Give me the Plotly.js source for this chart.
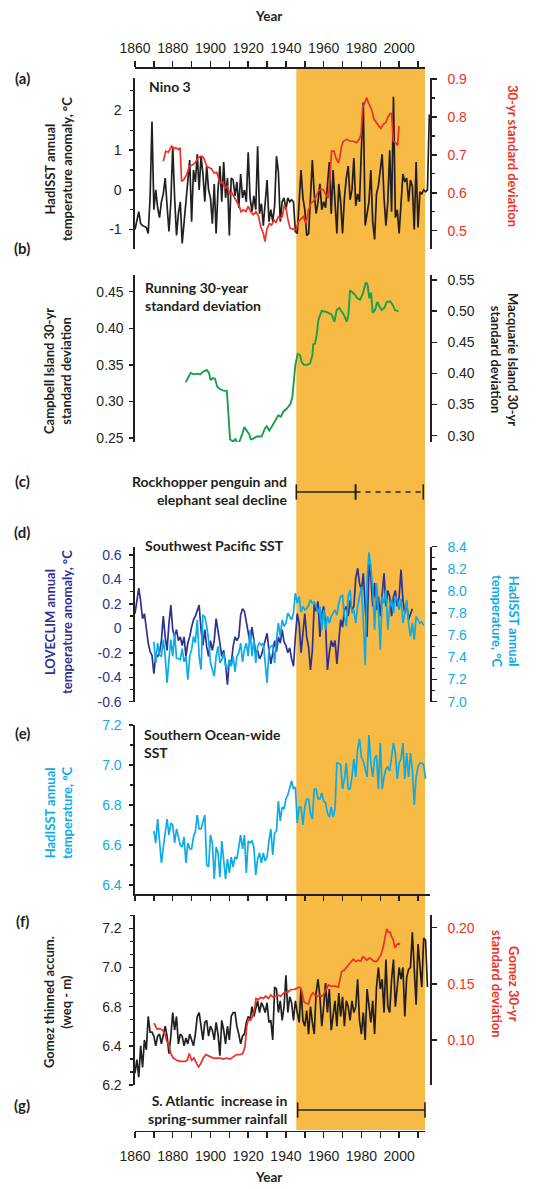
<!DOCTYPE html>
<html><head><meta charset="utf-8">
<script src="https://cdn.plot.ly/plotly-3.0.1.min.js"></script>
<style>html,body{margin:0;padding:0;background:#fff}#chart{width:536px;height:1189px}</style>
</head><body><div id="chart"></div>
<script>
// ---------------- DATA ----------------
const shadedPeriod = [1945.5, 2013.7];

// (a) Nino 3 HadISST annual anomaly (left) and 30-yr SD (right)
const nino3Start = 1860;
const nino3Anom = [
 -1.0,-0.8,-0.55,-0.85,-0.9,-0.92,-0.95,-1.1,-0.2,1.72,
 -0.5,0.0,-0.45,-0.7,-0.3,-0.1,0.3,-0.4,-1.05,-0.3,
 1.1,-0.2,-1.15,-0.6,-0.3,-1.35,-0.8,-0.2,0.3,0.75,
 -0.8,0.5,0.2,0.9,0.0,0.85,0.4,-0.3,0.6,0.0,
 -0.2,-0.85,0.15,-1.1,0.0,0.6,-0.3,0.7,-0.2,0.3,
 -1.15,0.3,0.25,-0.15,0.2,-0.45,0.4,-0.2,0.0,-0.3,
 0.95,-0.2,-0.55,-0.15,-0.5,1.1,-0.6,-0.35,-0.9,-0.4,
 0.25,-0.8,-0.5,-0.8,-0.4,0.85,0.45,-0.8,-0.3,-0.2,
 -0.5,-0.2,-0.3,-0.25,-0.3,-1.05,-1.1,-0.3,0.5,-0.2,
 -0.5,-1.15,-1.1,-0.2,0.75,-0.1,-0.6,-0.3,0.15,-0.5,
 -0.3,-0.45,0.2,0.7,-0.6,0.5,-0.3,-1.1,0.15,-0.3,
 -1.1,-0.2,0.3,0.6,-0.25,0.0,0.8,-0.4,-0.1,-0.3,
 1.02,2.2,-0.9,-0.6,-0.3,0.5,-0.8,-1.25,-0.1,0.1,
 0.5,0.9,-0.2,-0.9,-0.3,1.0,-0.55,2.35,-0.7,-0.5,
 -1.1,-0.4,0.4,0.2,0.3,-0.3,0.25,0.1,-1.0,0.7,
 -0.95,-0.05,-0.1,0.0,-0.05,0.0,1.9];
const nino3SdYears = [
 1875.0,1876.3,1877.7,1878.6,1879.4,1880.3,1881.7,1883.0,1883.9,1884.7,
 1886.1,1887.4,1888.8,1890.6,1891.8,1893.0,1894.5,1895.7,1896.6,1898.0,
 1899.4,1900.6,1901.9,1903.3,1904.3,1905.0,1906.5,1907.7,1908.9,1910.4,
 1911.2,1912.6,1913.9,1915.3,1916.2,1917.4,1918.8,1920.0,1921.3,1922.7,
 1924.1,1925.4,1926.6,1928.0,1928.9,1929.8,1931.2,1932.4,1933.7,1934.7,
 1936.0,1937.2,1938.1,1939.0,1940.0,1940.9,1942.2,1943.9,1945.3,1946.6,
 1948.0,1949.2,1950.6,1951.9,1953.3,1954.5,1955.8,1957.2,1958.4,1959.8,
 1961.2,1962.5,1963.4,1964.2,1965.5,1966.5,1967.8,1968.7,1969.5,1970.4,
 1972.2,1974.0,1975.7,1977.5,1978.9,1979.8,1980.7,1981.9,1982.8,1983.7,
 1984.6,1985.4,1986.7,1988.1,1989.3,1990.4,1991.6,1992.9,1993.9,1995.2,
 1996.0,1996.9,1998.3,1999.2,1999.9];
const nino3Sd = [
 0.683,0.710,0.707,0.714,0.723,0.716,0.719,0.714,0.719,0.630,
 0.636,0.648,0.670,0.674,0.679,0.689,0.696,0.696,0.690,0.670,
 0.665,0.663,0.652,0.654,0.639,0.626,0.627,0.612,0.617,0.595,
 0.601,0.588,0.573,0.564,0.550,0.555,0.550,0.564,0.550,0.542,
 0.550,0.539,0.511,0.493,0.471,0.502,0.519,0.515,0.528,0.521,
 0.537,0.533,0.537,0.564,0.561,0.533,0.506,0.504,0.502,0.524,
 0.530,0.537,0.519,0.553,0.573,0.577,0.588,0.604,0.610,0.608,
 0.595,0.586,0.648,0.710,0.710,0.692,0.679,0.696,0.723,0.736,
 0.741,0.736,0.736,0.732,0.742,0.754,0.825,0.838,0.851,0.838,
 0.829,0.820,0.794,0.783,0.776,0.770,0.781,0.785,0.798,0.809,
 0.809,0.736,0.732,0.725,0.776];

// (b) Running 30-year standard deviation (Campbell Island)
const campbellSdYears = [
 1886.9,1889.5,1890.9,1892.7,1894.5,1896.2,1898.0,1899.2,1900.1,1901.2,
 1902.4,1903.6,1905.0,1906.5,1908.7,1909.6,1910.4,1912.1,1913.2,1914.4,
 1915.7,1916.9,1918.0,1919.2,1920.6,1921.3,1922.7,1924.5,1927.1,1928.9,
 1929.8,1931.2,1932.4,1934.2,1936.0,1937.4,1938.6,1940.4,1941.6,1942.5,
 1943.4,1944.3,1945.0,1946.2,1947.5,1948.3,1949.6,1951.3,1952.8,1954.0,
 1954.5,1955.4,1956.3,1957.2,1958.1,1958.9,1959.8,1960.7,1962.5,1964.2,
 1965.7,1966.9,1968.3,1969.5,1970.8,1972.2,1973.1,1974.0,1975.4,1976.6,
 1977.8,1979.3,1980.7,1981.6,1982.4,1983.3,1984.2,1985.1,1986.0,1987.2,
 1988.4,1989.5,1990.7,1992.2,1993.4,1995.2,1996.6,1997.8,1999.6];
const campbellSd = [
 0.326,0.339,0.337,0.338,0.337,0.341,0.343,0.339,0.329,0.332,
 0.331,0.320,0.317,0.315,0.314,0.283,0.248,0.245,0.249,0.242,
 0.247,0.256,0.265,0.260,0.255,0.248,0.249,0.252,0.252,0.263,
 0.266,0.260,0.265,0.272,0.281,0.279,0.286,0.290,0.295,0.297,
 0.306,0.329,0.350,0.365,0.363,0.354,0.350,0.350,0.352,0.363,
 0.378,0.379,0.391,0.411,0.417,0.424,0.423,0.423,0.421,0.419,
 0.409,0.425,0.428,0.423,0.418,0.409,0.418,0.452,0.449,0.446,
 0.441,0.439,0.447,0.455,0.463,0.459,0.441,0.449,0.421,0.425,
 0.436,0.430,0.425,0.428,0.436,0.437,0.432,0.425,0.423];

// (c) Rockhopper penguin and elephant seal decline
const declineSolid = [1945.5, 1976.9];
const declineDashed = [1976.9, 2012.8];

// (d) Southwest Pacific SST
const loveclimStart = 1860;
const loveclimAnom = [
 0.12,0.25,0.33,0.22,0.08,0.12,-0.01,-0.12,-0.19,-0.22,
 -0.37,-0.22,-0.23,-0.20,-0.10,0.10,-0.07,-0.18,0.04,0.19,
 -0.01,-0.07,-0.01,-0.10,-0.07,-0.14,-0.07,-0.23,-0.12,-0.07,
 0.01,0.07,0.10,0.15,0.19,-0.01,-0.14,-0.01,-0.15,-0.23,
 -0.10,-0.18,-0.10,0.08,-0.01,-0.12,-0.23,-0.18,-0.29,-0.46,
 -0.26,-0.29,-0.15,-0.07,-0.10,-0.07,0.11,0.16,0.14,0.05,
 -0.01,-0.12,0.01,-0.11,-0.20,-0.18,-0.25,-0.22,-0.16,-0.10,
 -0.04,-0.18,-0.29,-0.20,-0.10,-0.19,-0.07,-0.12,-0.01,-0.11,
 -0.14,-0.20,-0.16,-0.25,-0.31,-0.07,0.12,0.04,-0.20,-0.04,
 0.12,-0.07,-0.15,-0.34,-0.18,0.20,0.14,0.22,-0.07,0.12,
 0.18,0.04,-0.34,-0.20,-0.10,-0.15,-0.10,-0.29,-0.10,0.07,
 0.01,0.15,0.18,0.10,0.23,0.15,0.18,0.41,0.49,0.37,
 0.31,0.45,0.18,-0.07,0.53,0.42,0.18,0.37,0.15,0.26,
 0.10,0.26,0.45,0.18,0.31,0.26,0.10,0.26,0.31,0.18,
 0.26,0.48,0.23,0.12,0.20,0.07,0.12,0.16];
const swpHadStart = 1870;
const swpHadSst = [
 7.54,7.35,7.53,7.42,7.41,7.56,7.41,7.17,7.38,7.56,
 7.41,7.62,7.39,7.39,7.38,7.48,7.36,7.41,7.20,7.41,
 7.47,7.59,7.53,7.74,7.41,7.29,7.78,7.77,7.68,7.56,
 7.35,7.29,7.23,7.41,7.50,7.35,7.38,7.44,7.32,7.29,
 7.38,7.32,7.41,7.27,7.41,7.44,7.53,7.36,7.47,7.53,
 7.41,7.65,7.41,7.56,7.35,7.50,7.53,7.51,7.53,7.35,
 7.17,7.47,7.50,7.51,7.35,7.56,7.71,7.59,7.74,7.68,
 7.71,7.80,7.77,7.74,7.80,7.98,7.89,7.95,7.81,7.86,
 7.83,7.84,7.87,7.92,7.89,7.90,7.86,7.80,7.86,7.65,
 7.83,7.65,7.77,7.71,7.77,7.80,7.83,7.78,7.89,7.95,
 7.96,7.77,7.68,7.95,8.01,7.80,7.83,7.71,7.86,7.95,
 8.04,7.74,7.33,8.10,8.35,8.22,8.01,7.65,8.07,7.83,
 7.47,7.95,7.89,8.01,7.65,7.86,7.92,7.80,7.95,7.92,
 7.83,7.93,7.71,7.80,7.92,7.71,7.59,7.71,7.56,7.77,
 7.74,7.71,7.72,7.69];

// (e) Southern Ocean-wide SST
const soHadStart = 1870;
const soHadSst = [
 6.67,6.61,6.73,6.61,6.51,6.59,6.66,6.73,6.65,6.71,
 6.70,6.61,6.68,6.64,6.60,6.59,6.64,6.51,6.61,6.58,
 6.58,6.64,6.67,6.75,6.68,6.68,6.71,6.75,6.50,6.49,
 6.65,6.61,6.43,6.59,6.56,6.44,6.62,6.51,6.43,6.53,
 6.46,6.54,6.49,6.54,6.53,6.59,6.65,6.58,6.65,6.46,
 6.62,6.61,6.62,6.59,6.45,6.53,6.56,6.51,6.56,6.52,
 6.54,6.62,6.68,6.55,6.66,6.67,6.82,6.72,6.79,6.78,
 6.83,6.85,6.88,6.92,6.88,6.89,6.71,6.79,6.79,6.70,
 6.79,6.83,6.83,6.76,6.73,6.88,6.88,6.83,6.83,6.86,
 6.82,6.81,6.76,6.74,6.79,6.74,6.78,7.01,7.01,7.00,
 6.88,6.93,7.01,6.88,6.88,6.94,7.03,6.94,7.08,7.13,
 7.04,7.02,6.98,6.94,7.15,7.01,6.94,7.03,7.05,6.88,
 7.11,6.88,6.94,6.98,6.99,6.97,7.04,7.11,7.06,6.93,
 7.01,7.03,7.11,6.93,7.06,6.94,7.06,6.98,6.80,6.94,
 6.99,7.01,7.01,7.00,6.93];

// (f) Gomez thinned accumulation (left) and 30-yr SD (right)
const gomezStart = 1860;
const gomezAccum = [
 6.46,6.53,6.44,6.60,6.49,6.63,6.58,6.75,6.67,6.67,
 6.65,6.60,6.65,6.66,6.61,6.66,6.70,6.65,6.56,6.65,
 6.77,6.68,6.75,6.61,6.66,6.65,6.60,6.64,6.61,6.66,
 6.63,6.60,6.66,6.75,6.77,6.70,6.63,6.72,6.73,6.65,
 6.70,6.68,6.63,6.72,6.66,6.55,6.73,6.68,6.61,6.70,
 6.63,6.75,6.77,6.77,6.70,6.66,6.61,6.65,6.66,6.72,
 6.75,6.73,6.80,6.75,6.80,6.83,6.77,6.82,6.80,6.77,
 6.82,6.72,6.73,6.63,6.90,6.89,6.77,6.83,6.73,6.80,
 6.96,6.77,6.85,6.82,6.73,6.83,6.77,6.72,6.89,6.73,
 6.70,6.78,6.66,6.80,6.72,6.66,6.87,6.94,6.85,6.70,
 6.80,6.92,6.77,6.89,6.68,6.75,6.83,6.70,6.87,6.75,
 6.85,6.70,6.83,6.80,6.73,6.83,6.77,6.80,6.94,6.73,
 6.66,6.77,6.63,6.89,6.80,6.72,6.83,6.66,6.90,7.00,
 6.89,6.94,6.77,7.04,6.80,6.77,6.94,7.04,6.80,6.90,
 7.00,6.94,7.00,6.75,6.95,6.99,7.00,7.18,6.97,6.81,
 7.12,7.00,6.90,7.15,7.14,6.90];
const gomezSdYears = [
 1870.2,1871.5,1873.3,1874.5,1875.9,1876.8,1877.7,1878.9,1880.3,1882.1,
 1883.9,1886.5,1887.7,1888.8,1890.0,1891.3,1892.7,1893.7,1894.8,1896.2,
 1897.6,1898.9,1900.3,1901.5,1903.3,1905.0,1906.8,1908.6,1910.4,1912.1,
 1913.9,1915.7,1917.1,1918.3,1919.2,1920.1,1921.3,1922.4,1923.6,1924.1,
 1925.4,1926.6,1928.0,1929.3,1930.7,1931.9,1933.3,1934.7,1936.0,1937.2,
 1938.6,1939.5,1940.7,1941.8,1943.0,1944.3,1945.7,1947.1,1948.0,1948.9,
 1949.6,1950.6,1951.9,1953.1,1954.2,1955.4,1956.6,1957.7,1958.9,1959.8,
 1961.1,1962.5,1963.7,1965.1,1966.5,1967.8,1968.7,1969.5,1970.8,1972.2,
 1973.6,1974.8,1975.7,1977.1,1978.4,1979.6,1980.7,1981.9,1982.8,1984.2,
 1985.4,1986.7,1988.1,1989.3,1990.4,1991.6,1992.5,1993.4,1994.3,1995.2,
 1996.0,1996.9,1997.8,1998.7,1999.6,2000.5];
const gomezSd = [
 0.115,0.110,0.110,0.109,0.105,0.099,0.097,0.088,0.084,0.082,
 0.081,0.081,0.082,0.088,0.082,0.084,0.079,0.076,0.079,0.084,
 0.087,0.086,0.085,0.084,0.084,0.084,0.083,0.084,0.083,0.085,
 0.087,0.087,0.088,0.094,0.112,0.119,0.118,0.121,0.130,0.137,
 0.136,0.138,0.137,0.139,0.137,0.140,0.138,0.139,0.140,0.139,
 0.142,0.143,0.142,0.144,0.145,0.145,0.146,0.147,0.146,0.140,
 0.134,0.133,0.132,0.139,0.142,0.140,0.139,0.140,0.139,0.140,
 0.145,0.149,0.148,0.148,0.148,0.147,0.153,0.161,0.162,0.165,
 0.167,0.170,0.172,0.170,0.171,0.170,0.174,0.173,0.171,0.173,
 0.172,0.170,0.170,0.173,0.176,0.183,0.192,0.199,0.196,0.196,
 0.192,0.189,0.182,0.185,0.186,0.185];
const gomezTickVals = [6.4, 6.6, 6.8, 7.0, 7.2];
const gomezTickText = ['6.2', '6.4', '6.8', '7.0', '7.2'];

// (g) S. Atlantic increase in spring-summer rainfall
const rainfallSpan = [1946.2, 2013.7];

// ---------------- STYLE / LAYOUT ----------------
const W = 536, H = 1189;
const px = v => v / W;
const py = v => 1 - v / H;
const BLACK = '#231f20', RED = '#ee3124', GREEN = '#1aa04a', DBLUE = '#2e3192', LBLUE = '#0cabe8', ORANGE = '#f6ba45';
const F_TICK = 'Liberation Sans, Arial, sans-serif';
const F_BOLD = 'Lato, Open Sans, sans-serif';
const years = (start, arr) => arr.map((_, i) => start + i);

const lineAx = {showline:true, linecolor:BLACK, linewidth:1.6, ticks:'outside', ticklen:4, tickwidth:1.5,
  tickcolor:BLACK, showgrid:false, zeroline:false, fixedrange:true,
  tickfont:{family:F_TICK, size:14, color:BLACK}};
function yax(extra){ return Object.assign({}, lineAx, {anchor:'x', ticklabelstandoff:5}, extra); }
function minor(dtick, tick0){ return {dtick:dtick, tick0:tick0, ticks:'outside', ticklen:3, tickwidth:1.3, tickcolor:BLACK, showgrid:false}; }

const xDataRange = [1860, 1860 + (430 - 135) / 1.8867];
const xAxisRange = [1860, 1860 + (425 - 135) / 1.8867];

const layout = {
  width:W, height:H, margin:{l:0,r:0,t:0,b:0}, paper_bgcolor:'#fff', plot_bgcolor:'rgba(0,0,0,0)',
  showlegend:false,
  xaxis:{domain:[px(135), px(430)], range:xDataRange, visible:false, anchor:'y', fixedrange:true},
  xaxis2:Object.assign({}, lineAx, {domain:[px(135), px(425)], range:xAxisRange, anchor:'y12', side:'top',
     tick0:1860, dtick:20, ticklen:6, ticklabelstandoff:3, minor:Object.assign(minor(10,1860),{ticklen:6, tickwidth:1.5})}),
  xaxis3:Object.assign({}, lineAx, {domain:[px(135), px(425)], range:xAxisRange, anchor:'y12', side:'bottom',
     tick0:1860, dtick:20, ticklen:6, ticklabelstandoff:6, minor:Object.assign(minor(10,1860),{ticklen:6, tickwidth:1.5})}),
  xaxis4:Object.assign({}, lineAx, {domain:[px(135), px(430)], range:xDataRange, anchor:'y8', side:'bottom',
     tick0:1860, dtick:10, ticklen:5, showticklabels:false}),
  // (a)
  yaxis:yax({domain:[py(249), py(78)], range:[-1.49, 2.82], tickmode:'array', tickvals:[-1,0,1,2], ticktext:['-1','0','1','2'],
     minor:minor(0.5,0)}),
  yaxis2:yax({domain:[py(249), py(78)], range:[0.4515, 0.903], overlaying:'y', side:'right', tick0:0.5, dtick:0.1, tickformat:'.1f',
     ticklen:5, ticklabelstandoff:8, tickfont:{family:F_TICK, size:14, color:RED}, minor:minor(0.05,0.5)}),
  // (b)
  yaxis3:yax({domain:[py(442), py(275)], range:[0.2445, 0.4729], tick0:0.25, dtick:0.05, tickformat:'.2f', ticklabelstandoff:3}),
  yaxis4:yax({domain:[py(442), py(275)], range:[0.2899, 0.558], overlaying:'y3', side:'right', tick0:0.3, dtick:0.05, tickformat:'.2f',
     ticklen:5, ticklabelstandoff:8}),
  // (c)
  yaxis5:{domain:[py(500), py(484)], range:[0,1], visible:false, anchor:'x', fixedrange:true},
  // (d)
  yaxis6:yax({domain:[py(701.7), py(546.7)], range:[-0.6, 0.668], tickmode:'array', tickvals:[-0.6,-0.4,-0.2,0,0.2,0.4,0.6],
     ticktext:['-0.6','-0.4','-0.2','0','0.2','0.4','0.6'], tickfont:{family:F_TICK, size:14, color:DBLUE}, minor:minor(0.1,0)}),
  yaxis7:yax({domain:[py(701.7), py(546.7)], range:[7.0, 8.4], overlaying:'y6', side:'right', tick0:7.0, dtick:0.2, tickformat:'.1f',
     ticklen:5, ticklabelstandoff:8, tickfont:{family:F_TICK, size:14, color:LBLUE}, minor:minor(0.1,7.0)}),
  // (e)
  yaxis8:yax({domain:[py(894), py(725)], range:[6.355, 7.2], tick0:6.4, dtick:0.2, tickformat:'.1f',
     tickfont:{family:F_TICK, size:14, color:LBLUE}, minor:minor(0.1,6.4)}),
  // (f)
  yaxis9:yax({domain:[py(1085), py(915)], range:[6.40, 7.268], tickmode:'array', tickvals:gomezTickVals, ticktext:gomezTickText,
     minor:minor(0.2/3, 6.4)}),
  yaxis10:yax({domain:[py(1085), py(915)], range:[0.06, 0.2113], overlaying:'y9', side:'right', tick0:0.1, dtick:0.05, tickformat:'.2f',
     ticklen:5, ticklabelstandoff:8, tickfont:{family:F_TICK, size:14, color:RED}}),
  // (g)
  yaxis11:{domain:[py(1118), py(1102)], range:[0,1], visible:false, anchor:'x', fixedrange:true},
  // frame for top / bottom year axes
  yaxis12:{domain:[py(1130.7), py(69)], range:[0,1], visible:false, anchor:'x2', fixedrange:true},
  shapes:[{type:'rect', layer:'below', xref:'x', yref:'paper', x0:shadedPeriod[0], x1:shadedPeriod[1],
     y0:py(1130), y1:py(69), fillcolor:ORANGE, line:{width:0}}],
  annotations:[]
};

function ann(text, x, y, o){
  return Object.assign({text:text, x:px(x), y:py(y), xref:'paper', yref:'paper', showarrow:false,
    xanchor:'center', yanchor:'middle', font:{family:F_BOLD, size:13, color:BLACK, weight:700}}, o||{});
}
const A = layout.annotations;
A.push(ann('Year', 268, 16, {font:{family:F_BOLD, size:13.5, color:BLACK, weight:700}}));
A.push(ann('Year', 268, 1187, {yanchor:'bottom', font:{family:F_BOLD, size:13.5, color:BLACK, weight:700}}));
[['(a)',78],['(b)',248],['(c)',480.5],['(d)',532],['(e)',733],['(f)',921],['(g)',1105]].forEach(p =>
  A.push(ann(p[0], 22, p[1], {font:{family:F_BOLD, size:15, color:BLACK, weight:700}})));
const titleFont = {family:F_BOLD, size:14, color:BLACK, weight:700};
A.push(ann('Nino 3', 147, 87, {xanchor:'left', font:titleFont}));
A.push(ann('Running 30-year<br>standard deviation', 143, 296.5, {xanchor:'left', align:'left', font:titleFont}));
A.push(ann('Rockhopper penguin and<br>elephant seal decline', 289, 490.5, {xanchor:'right', align:'right', font:titleFont}));
A.push(ann('Southwest Pacific SST', 143, 545, {xanchor:'left', font:titleFont}));
A.push(ann('Southern Ocean-wide<br>SST', 142, 743.5, {xanchor:'left', align:'left', font:titleFont}));
A.push(ann('S. Atlantic\u00a0 increase in<br>spring-summer rainfall', 289, 1109.5, {xanchor:'right', align:'right', font:titleFont}));
// axis titles
const af = c => ({family:F_BOLD, size:13, color:c, weight:700});
A.push(ann('HadISST annual<br>temperature anomaly, °C', 59, 169, {textangle:-90, font:af(BLACK)}));
A.push(ann('30-yr standard deviation', 513, 156, {textangle:90, font:af(RED)}));
A.push(ann('Campbell Island 30-yr<br>standard deviation', 58, 371, {textangle:-90, font:af(BLACK)}));
A.push(ann('Macquarie Island 30-yr<br>standard deviation', 505, 359, {textangle:90, font:af(BLACK)}));
A.push(ann('LOVECLIM annual<br>temperature anomaly, °C', 58, 622, {textangle:-90, font:af(DBLUE)}));
A.push(ann('HadISST annual<br>temperature, °C', 505, 621, {textangle:90, font:af(LBLUE)}));
A.push(ann('HadISST annual<br>temperature, °C', 58, 812, {textangle:-90, font:af(LBLUE)}));
A.push(ann('Gomez thinned accum.<br>(weq - m)', 58, 1002, {textangle:-90, font:af(BLACK)}));
A.push(ann('Gomez 30-yr<br>standard deviation', 506, 984, {textangle:90, font:af(RED)}));

// ---------------- TRACES ----------------
const L = (x, y, ya, color, width, extra) => Object.assign({type:'scatter', mode:'lines', x:x, y:y, xaxis:'x', yaxis:ya,
  line:{color:color, width:width}, hoverinfo:'skip'}, extra||{});
const dummy = (xa, ya) => ({type:'scatter', mode:'lines', x:[1900], y:[null], xaxis:xa, yaxis:ya, hoverinfo:'skip'});
const capMarker = {symbol:'line-ns-open', size:11, line:{width:1.6, color:BLACK}, color:BLACK};

const traces = [
  dummy('x2','y12'), dummy('x3','y12'), dummy('x4','y8'), dummy('x','y4'),
  L(years(nino3Start, nino3Anom), nino3Anom, 'y', BLACK, 1.7),
  L(nino3SdYears, nino3Sd, 'y2', RED, 1.7),
  L(campbellSdYears, campbellSd, 'y3', GREEN, 1.9),
  L(declineSolid, [0.5,0.5], 'y5', BLACK, 1.7, {mode:'lines+markers', marker:capMarker}),
  L(declineDashed, [0.5,0.5], 'y5', BLACK, 1.7, {mode:'lines+markers', marker:capMarker, line:{color:BLACK, width:1.7, dash:'5px,5px'}}),
  L(years(loveclimStart, loveclimAnom), loveclimAnom, 'y6', DBLUE, 1.7),
  L(years(swpHadStart, swpHadSst), swpHadSst, 'y7', LBLUE, 1.7),
  L(years(soHadStart, soHadSst), soHadSst, 'y8', LBLUE, 1.7),
  L(years(gomezStart, gomezAccum), gomezAccum, 'y9', BLACK, 1.7),
  L(gomezSdYears, gomezSd, 'y10', RED, 1.7),
  L(rainfallSpan, [0.5,0.5], 'y11', BLACK, 1.7, {mode:'lines+markers', marker:capMarker})
];

Plotly.newPlot('chart', traces, layout, {displayModeBar:false, staticPlot:true});
</script></body></html>
